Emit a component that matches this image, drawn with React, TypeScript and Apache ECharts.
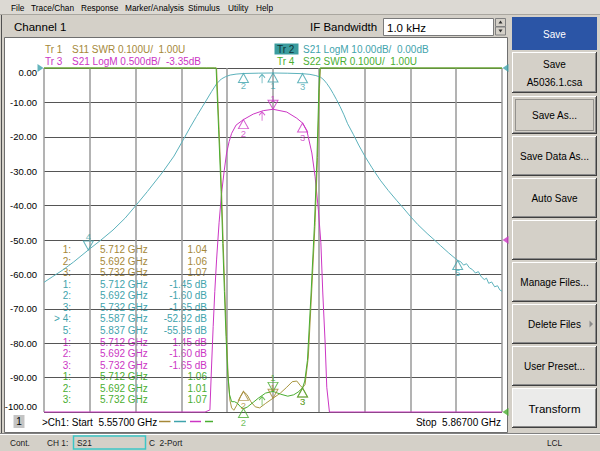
import React, { useEffect, useRef } from "react";
import * as echarts from "echarts";

// ---------------- stimulus ----------------
const START_GHZ = 5.557;
const STOP_GHZ = 5.867;
const SPAN_MHZ = 310;
const DIV_MHZ = 31;

// ---------------- traces: [MHz above start, value] ----------------
// Tr 2  S21 LogM (dB)
const tr2Data: number[][] = [
  [0, -62.3], [6, -60.6], [12.8, -58.7], [20, -56.4], [30, -52.9], [38, -50.2], [46.7, -47.1],
  [55, -43.6], [62.5, -39.8], [70, -35.9], [80.6, -30.1], [88, -25.6], [94.2, -20.9], [99, -17.2],
  [103.2, -14.1], [107, -11.4], [110, -9.3], [113.5, -6.8], [116.8, -4.6], [120, -3.2], [123, -2.5],
  [126, -2.05], [130, -1.78], [135, -1.6], [145, -1.5], [155, -1.45], [165, -1.52], [175, -1.65],
  [180, -1.85], [184, -2.2], [187.3, -2.7], [189.5, -3.5], [191.4, -4.5], [193.5, -5.8], [195.7, -7.4],
  [198, -9.2], [200.4, -11.2], [203, -13.6], [205.5, -16.2], [209.5, -19.4], [213, -22.4], [217.4, -25.8],
  [222, -29.0], [227.6, -32.6], [233, -35.6], [238.9, -38.6], [243, -40.6], [247.9, -43.1], [253, -45.5],
  [259.3, -48.1], [264, -49.9], [268.3, -51.6], [274, -53.8], [280, -55.95], [282, -56.3], [284, -57.3],
  [286, -56.9], [288, -58.1], [290, -58.6], [292, -59.6], [294, -59.2], [296, -60.7], [298, -61.5],
  [299.5, -61.1], [301, -62.6], [303, -62.2], [305, -63.6], [307, -63.3], [308.5, -64.5], [310, -64.9],
];
// Tr 3  S21 LogM (dB), 0.5 dB/div
const tr3Data: number[][] = [
  [0, -30], [100, -14], [109, -8], [112.3, -5.82], [113.3, -5.24], [114.5, -4.61], [115.6, -4.1],
  [116.8, -3.64], [118.5, -3.1], [120.2, -2.67], [122, -2.34], [123.6, -2.085], [125.3, -1.92],
  [127, -1.8], [130, -1.68], [135, -1.6], [141.6, -1.52], [148.4, -1.47], [155, -1.45], [164.3, -1.49],
  [171.1, -1.58], [175, -1.65], [177.9, -1.76], [181.3, -2.085], [183.5, -2.43], [185.7, -2.91],
  [187.4, -3.39], [188.7, -4.12], [190.3, -4.85], [191.4, -5.49], [193.2, -5.85], [197, -8], [210, -14],
  [310, -32],
];
// Tr 1  S11 SWR
const tr1Data: number[][] = [
  [0, 30], [110, 12], [115.5, 2.6], [116.8, 2.02], [118.5, 1.82], [120.2, 1.64], [121.3, 1.49],
  [122.4, 1.35], [123.5, 1.22], [124.7, 1.1], [125.8, 1.035], [127, 1.012], [128.5, 1.005], [130.5, 1.02],
  [133, 1.045], [135, 1.06], [137.5, 1.05], [140, 1.03], [143, 1.015], [146, 1.012], [150, 1.025],
  [155, 1.04], [160, 1.055], [164.3, 1.072], [168, 1.088], [171.1, 1.09], [173.3, 1.078], [175, 1.07],
  [176.7, 1.08], [178.9, 1.16], [181.3, 1.36], [183.5, 1.55], [185.1, 1.74], [186.4, 1.94], [187.1, 2.03],
  [188.5, 2.6], [200, 12], [310, 30],
];
// Tr 4  S22 SWR
const tr4Data: number[][] = [
  [0, 30], [110, 12], [115.2, 2.6], [116.5, 2.02], [118.2, 1.82], [119.9, 1.64], [121, 1.49],
  [122.1, 1.35], [123.2, 1.22], [124.4, 1.11], [125.6, 1.05], [127, 1.03], [129, 1.03], [131, 1.025],
  [133, 1.015], [135, 1.01], [137.5, 1.014], [141.6, 1.028], [145, 1.04], [150, 1.055], [155, 1.06],
  [160, 1.052], [165, 1.046], [169, 1.05], [172, 1.058], [175, 1.07], [176.5, 1.09], [178.3, 1.15],
  [180.7, 1.34], [183, 1.54], [184.7, 1.73], [186, 1.93], [186.8, 2.03], [188.2, 2.6], [200, 12],
  [310, 30],
];

// ---------------- markers ----------------
type Mk = { n: string; f: number; v: number; active?: boolean };
const tr1Markers: Mk[] = [
  { n: "1", f: 5.712, v: 1.04, active: true },
  { n: "2", f: 5.692, v: 1.06 },
  { n: "3", f: 5.732, v: 1.07 },
];
const tr2Markers: Mk[] = [
  { n: "1", f: 5.712, v: -1.45 },
  { n: "2", f: 5.692, v: -1.6 },
  { n: "3", f: 5.732, v: -1.65 },
  { n: "4", f: 5.587, v: -52.92, active: true },
  { n: "5", f: 5.837, v: -55.95 },
];
const tr3Markers: Mk[] = [
  { n: "1", f: 5.712, v: -1.45, active: true },
  { n: "2", f: 5.692, v: -1.6 },
  { n: "3", f: 5.732, v: -1.65 },
];
const tr4Markers: Mk[] = [
  { n: "1", f: 5.712, v: 1.06, active: true },
  { n: "2", f: 5.692, v: 1.01 },
  { n: "3", f: 5.732, v: 1.07 },
];
// small search arrows [GHz, value]
const tr2Arrow = [5.7046, -1.5];
const tr3Arrow = [5.7046, -1.47];
const tr4Arrow = [5.7046, 1.048];

// ---------------- scales ----------------
const DB_MIN = -100, DB_MAX = 0, DB_STEP = 10;
const TR3_REF = -3.35, TR3_DIV = 0.5;
const SWR_REF = 1.0, SWR_DIV = 0.1;

const TRACE_HEADERS = [
  { tr: "Tr 1", text: "S11 SWR 0.100U/  1.00U" },
  { tr: "Tr 2", text: "S21 LogM 10.00dB/  0.00dB" },
  { tr: "Tr 3", text: "S21 LogM 0.500dB/  -3.35dB" },
  { tr: "Tr 4", text: "S22 SWR 0.100U/  1.00U" },
];
const MENU = ["File", "Trace/Chan", "Response", "Marker/Analysis", "Stimulus", "Utility", "Help"];
const BUTTONS = ["Save", "Save\nA5036.1.csa", "Save As...", "Save Data As...", "Auto Save", "", "Manage Files...", "Delete Files", "User Preset...", "Transform"];

// ---------------- styling ----------------
const FONT = "Liberation Sans";
const BG = "#d4d0c8";
const C1 = "#a58838";
const C2 = "#3fa3ac";
const C2L = "#5cb2bc";
const C3 = "#cc36c4";
const C4 = "#4aae30";
const MENU_X = [11, 31, 81, 125, 188, 228, 256];
const BTN_Y = [17, 52, 96, 136, 178, 220, 262, 304, 346, 388];
const BTN_H = [33, 41, 38, 40, 40, 40, 40, 40, 40, 40];

const mhz = (ghz: number) => Math.round((ghz - START_GHZ) * 1e6) / 1e3;
const clamp = (d: number[][], lo: number, hi: number) => d.map(([x, y]) => [x, Math.min(hi, Math.max(lo, y))]);

function txt(text: string, x: number, y: number, o: any = {}) {
  const align = o.align || "left";
  const va = o.va || "middle";
  return {
    type: "text", z: o.z ?? 5, silent: true,
    style: {
      text, x, y, fill: o.color || "#000", fontSize: o.size || 10, fontFamily: o.font || FONT,
      fontWeight: o.weight || "normal", textAlign: align, textVerticalAlign: va, align, verticalAlign: va,
      lineHeight: o.lh,
    },
  };
}
function rect(x: number, y: number, w: number, h: number, fill: string, stroke?: string, lw = 1, z = 1, dash?: number[]) {
  return { type: "rect", z, silent: true, shape: { x, y, width: w, height: h }, style: { fill, stroke: stroke || null, lineWidth: lw, lineDash: dash } };
}
function ln(x1: number, y1: number, x2: number, y2: number, stroke: string, lw = 1, z = 1) {
  return { type: "line", z, silent: true, shape: { x1, y1, x2, y2 }, style: { stroke, lineWidth: lw } };
}
function poly(points: number[][], fill: string, z = 2) {
  return { type: "polygon", z, silent: true, shape: { points }, style: { fill } };
}

function buildGraphic() {
  const g: any[] = [];
  // menu bar
  g.push(rect(0, 0, 600, 14, "#dcd9d3", undefined, 1, 0));
  MENU.forEach((m, i) => g.push(txt(m, MENU_X[i], 7.5, { size: 8.3 })));
  g.push(ln(0, 14.5, 600, 14.5, "#a9a69f", 1, 1));
  // channel title row
  g.push(txt("Channel 1", 14, 27, { size: 11.5 }));
  g.push(txt("IF Bandwidth", 310, 27, { size: 11.5 }));
  g.push(rect(383.5, 18.5, 110, 17, "#ffffff", "#7a7a7a"));
  g.push(txt("1.0 kHz", 387, 27.5, { size: 11.5 }));
  g.push(rect(495.5, 18.5, 10, 8, BG, "#808080"));
  g.push(rect(495.5, 27, 10, 8, BG, "#808080"));
  g.push(poly([[500.5, 20.5], [498.5, 23.5], [502.5, 23.5]], "#303030"));
  g.push(poly([[500.5, 32.5], [498.5, 29.5], [502.5, 29.5]], "#303030"));
  // outer window lines
  g.push(ln(1.5, 15, 1.5, 433, "#505050", 1, 1));
  // plot window
  g.push(rect(4.5, 37.5, 503, 395, "#ffffff", "#6f6f6f", 1, -3));
  // trace headers
  const hx = [[45, 72], [277, 303], [45, 72], [277, 303]];
  const hy = [49, 49, 61.5, 61.5];
  const hc = [C1, C2, C3, C4];
  TRACE_HEADERS.forEach((h, i) => {
    if (i === 1) g.push(rect(274.5, 43.5, 24, 11, "#3a9c9e", undefined, 1, 2));
    g.push(txt(h.tr, hx[i][0], hy[i], { size: 10, color: i === 1 ? "#0b3236" : hc[i], z: 3 }));
    g.push(txt(h.text, hx[i][1], hy[i], { size: 10, color: hc[i], z: 3 }));
  });
  // marker table
  const rows: any[] = [];
  const add = (ms: Mk[], color: string, unit: string, activeTrace: boolean) =>
    ms.forEach((m) => rows.push({ n: (activeTrace && m.active ? "> " : "") + m.n + ":", f: m.f.toFixed(3) + " GHz", v: m.v.toFixed(2) + unit, color }));
  add(tr1Markers, C1, "", false);
  add(tr2Markers, C2, " dB", true);
  add(tr3Markers, C3, " dB", false);
  add(tr4Markers, C4, "", false);
  rows.forEach((r, i) => {
    const y = 249.5 + i * 11.57;
    g.push(txt(r.n, 71, y, { align: "right", color: r.color, z: -1 }));
    g.push(txt(r.f, 100, y, { color: r.color, z: -1 }));
    g.push(txt(r.v, 207, y, { align: "right", color: r.color, z: -1 }));
  });
  // bottom stimulus row
  g.push(rect(13.5, 415, 11, 13, "#c4c4c4", undefined, 1, 2));
  g.push(txt("1", 19, 421.5, { align: "center", size: 10, z: 3 }));
  g.push(txt(`>Ch1: Start  ${START_GHZ.toFixed(5)} GHz`, 42, 422, { size: 10 }));
  [[159, 170.5, C1], [174, 186, C2], [190, 201, C3], [205, 213, C4]].forEach(([a, b, c]: any) => g.push(ln(a, 421.5, b, 421.5, c, 1.5, 3)));
  g.push(txt(`Stop  ${STOP_GHZ.toFixed(5)} GHz`, 501, 422, { size: 10, align: "right" }));
  // status bar
  g.push(ln(0, 433.5, 600, 433.5, "#808080", 1, 1));
  g.push(ln(0, 434.5, 600, 434.5, "#ffffff", 1, 1));
  g.push(txt("Cont.", 10, 442.5, { size: 8.3, color: "#202020" }));
  g.push(txt("CH 1:", 47, 442.5, { size: 8.3, color: "#202020" }));
  g.push(rect(73.5, 436, 72, 13, BG, "#3cc6c6", 1.5, 2));
  g.push(txt("S21", 77, 442.5, { size: 8.3, color: "#202020" }));
  g.push(txt("C  2-Port", 149, 442.5, { size: 8.3, color: "#202020" }));
  g.push(txt("LCL", 547, 442.5, { size: 8.3, color: "#202020" }));
  // right panel buttons
  BUTTONS.forEach((b, i) => {
    const x = 512, w = 85, y = BTN_Y[i], h = BTN_H[i];
    const blue = i === 0;
    const light = i === BUTTONS.length - 1;
    g.push(rect(x, y, w, h, blue ? "#2b55a6" : light ? "#ebebea" : BG, undefined, 1, 1));
    if (!blue) {
      g.push(ln(x, y + 0.5, x + w, y + 0.5, "#ffffff", 1, 2));
      g.push(ln(x + 0.5, y, x + 0.5, y + h, "#ffffff", 1, 2));
      g.push(ln(x, y + h - 0.5, x + w, y + h - 0.5, "#404040", 1, 2));
      g.push(ln(x + w - 0.5, y, x + w - 0.5, y + h, "#404040", 1, 2));
      g.push(ln(x + 1, y + h - 1.5, x + w - 1, y + h - 1.5, "#8a8a8a", 1, 2));
      g.push(ln(x + w - 1.5, y + 1, x + w - 1.5, y + h - 1, "#8a8a8a", 1, 2));
    }
    if (i === 2) g.push(rect(x + 3.5, y + 3.5, w - 7, h - 7, "none", "#555555", 1, 2, [1, 1]));
    if (b) {
      g.push(txt(b, x + w / 2, y + h / 2 + 0.5, {
        align: "center", size: light ? 11.5 : 10, color: blue ? "#ffffff" : "#000000", lh: 18, z: 3,
      }));
    }
    if (i === 7) g.push(poly([[589.5, 320.5], [589.5, 327.5], [593, 324]], "#8a8a8a", 3));
  });
  return g;
}

function markerItems(ms: Mk[], color: string, activeLabelOffset: number, labelOffset: number) {
  return ms.map((m) => ({
    value: [mhz(m.f), m.v],
    symbol: m.active ? "path://M0,0L10,0L5,9Z" : "path://M5,0L10,9L0,9Z",
    symbolOffset: [0, m.active ? -4.5 : 4.5],
    label: {
      show: true, formatter: m.n, position: m.active ? "top" : "bottom", distance: 0,
      offset: [0, m.active ? activeLabelOffset : labelOffset],
      color, fontSize: 9.5, lineHeight: 9, fontFamily: FONT,
    },
  }));
}
function markerSeries(ms: Mk[], color: string, yAxisIndex: number, activeLabelOffset = 0, labelOffset = 0) {
  return {
    type: "scatter", yAxisIndex, clip: false, silent: true, z: 10,
    symbolSize: [10, 9],
    itemStyle: { color: "rgba(0,0,0,0)", borderColor: color, borderWidth: 1 },
    data: markerItems(ms, color, activeLabelOffset, labelOffset),
  };
}
function arrowSeries(p: number[], color: string, yAxisIndex: number) {
  return {
    type: "scatter", yAxisIndex, clip: false, silent: true, z: 10,
    symbol: "path://M3,0L6,4M3,0L0,4M3,0L3,10", symbolSize: [6, 9], symbolOffset: [0, 5.5],
    itemStyle: { color: "rgba(0,0,0,0)", borderColor: color, borderWidth: 1 },
    data: [[mhz(p[0]), p[1]]],
  };
}
function refSeries(value: number, atMax: boolean, color: string, yAxisIndex: number) {
  return {
    type: "scatter", yAxisIndex, clip: false, silent: true, z: 11,
    symbol: atMax ? "path://M0,5L8,0L8,10Z" : "path://M8,5L0,0L0,10Z",
    symbolSize: [6, 8], symbolOffset: [atMax ? 3.5 : -3.5, 0],
    itemStyle: { color },
    data: [[atMax ? SPAN_MHZ : 0, value]],
  };
}
function lineSeries(d: number[][], color: string, yAxisIndex: number, lo: number, hi: number, z: number) {
  return {
    type: "line", yAxisIndex, data: clamp(d, lo, hi), showSymbol: false, symbol: "none",
    clip: false, silent: true, z, lineStyle: { color, width: 1 },
  };
}

function buildOption() {
  const tr3Min = TR3_REF - 5 * TR3_DIV, tr3Max = TR3_REF + 5 * TR3_DIV;
  const swrMin = SWR_REF, swrMax = SWR_REF + 10 * SWR_DIV;
  const labelStyle = { fontSize: 9.5, fontFamily: FONT, color: "#000" };
  return {
    animation: false,
    backgroundColor: BG,
    textStyle: { fontFamily: FONT },
    grid: { left: 44, top: 68, width: 458, height: 344, containLabel: false },
    graphic: { elements: buildGraphic() },
    xAxis: {
      type: "value", min: 0, max: SPAN_MHZ, interval: DIV_MHZ,
      axisLine: { show: false }, axisTick: { show: false }, axisLabel: { show: false },
      splitLine: { show: true, lineStyle: { color: "#9a9a9a", width: 1.5 } },
    },
    yAxis: [
      {
        type: "value", min: DB_MIN, max: DB_MAX, interval: DB_STEP,
        axisLine: { show: false }, axisTick: { show: false },
        splitLine: { show: true, lineStyle: { color: "#555555", width: 1 } },
        axisLabel: {
          margin: 7, ...labelStyle,
          formatter: (v: number) => {
            const s = v.toFixed(2);
            if (v === DB_MAX) return `{t|${s}}`;
            if (v === DB_MIN) return `{b|${s}}`;
            return s;
          },
          rich: { t: { ...labelStyle, padding: [9, 0, 0, 0] }, b: { ...labelStyle, padding: [0, 0, 11, 0] } },
        },
      },
      { type: "value", min: tr3Min, max: tr3Max, show: false, splitLine: { show: false } },
      { type: "value", min: swrMin, max: swrMax, show: false, splitLine: { show: false } },
    ],
    series: [
      lineSeries(tr2Data, C2L, 0, DB_MIN, DB_MAX, 2),
      lineSeries(tr3Data, C3, 1, tr3Min, tr3Max, 3),
      lineSeries(tr1Data, "#a89640", 2, swrMin, swrMax, 4),
      lineSeries(tr4Data, C4, 2, swrMin, swrMax, 5),
      markerSeries(tr2Markers, C2, 0, 0, -1.5),
      markerSeries(tr3Markers, C3, 1, 3.5),
      markerSeries(tr1Markers, C1, 2, 3),
      markerSeries(tr4Markers, C4, 2),
      arrowSeries(tr2Arrow, C2, 0),
      arrowSeries(tr3Arrow, C3, 1),
      arrowSeries(tr4Arrow, C4, 2),
      refSeries(DB_MAX, true, C2, 0),
      refSeries(DB_MAX, false, C2, 0),
      refSeries(TR3_REF, true, C3, 1),
      refSeries(SWR_REF, true, C4, 2),
    ],
  };
}

export default function App() {
  const ref = useRef<HTMLDivElement>(null);
  useEffect(() => {
    if (!ref.current) return;
    const chart = echarts.init(ref.current, null, { renderer: "svg", width: 600, height: 451 });
    chart.setOption(buildOption() as any);
    return () => chart.dispose();
  }, []);
  return <div ref={ref} style={{ position: "fixed", left: 0, top: 0, width: 600, height: 451, background: BG }} />;
}
